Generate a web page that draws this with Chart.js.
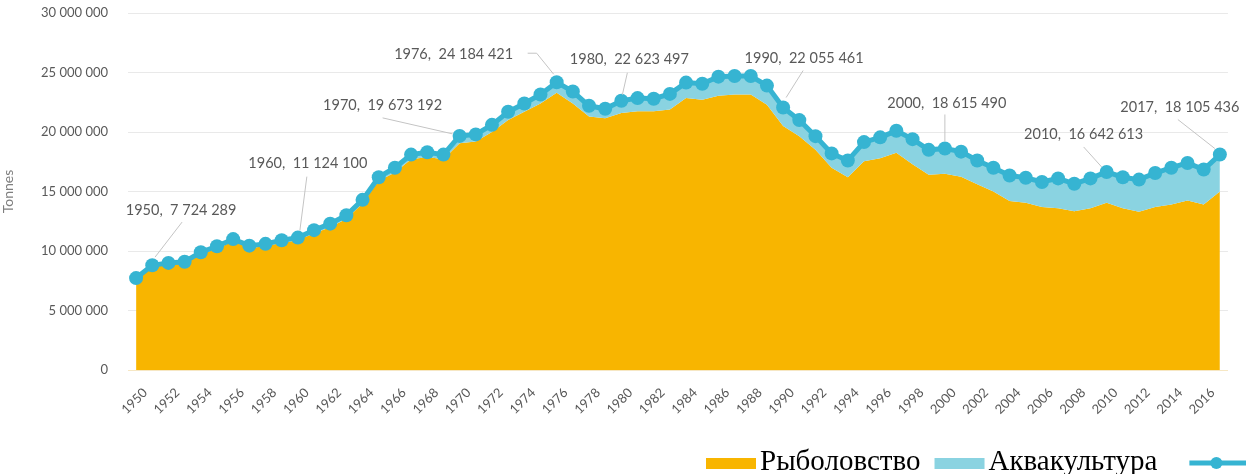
<!DOCTYPE html>
<html>
<head>
<meta charset="utf-8">
<script src="https://cdn.jsdelivr.net/npm/chart.js@4.4.1/dist/chart.umd.min.js"></script>
<style>
  html, body { margin: 0; padding: 0; background: #fff; }
  #wrap { width: 1246px; height: 474px; overflow: hidden; }
</style>
</head>
<body>
<div id="wrap"><canvas id="catchChart" width="1246" height="474"></canvas></div>
<script>
// годы 1950–2017
const years = [
  '1950','1951','1952','1953','1954','1955','1956','1957','1958','1959',
  '1960','1961','1962','1963','1964','1965','1966','1967','1968','1969',
  '1970','1971','1972','1973','1974','1975','1976','1977','1978','1979',
  '1980','1981','1982','1983','1984','1985','1986','1987','1988','1989',
  '1990','1991','1992','1993','1994','1995','1996','1997','1998','1999',
  '2000','2001','2002','2003','2004','2005','2006','2007','2008','2009',
  '2010','2011','2012','2013','2014','2015','2016','2017'
];

// общий улов (рыболовство + аквакультура), тонны
const total = [
  7724289, 8800000, 9000000, 9100000, 9900000, 10400000, 11000000, 10450000, 10600000, 10900000,
  11124100, 11750000, 12300000, 13000000, 14300000, 16200000, 17000000, 18100000, 18300000, 18100000,
  19673192, 19800000, 20600000, 21700000, 22400000, 23150000, 24184421, 23400000, 22200000, 21950000,
  22623497, 22850000, 22800000, 23200000, 24150000, 24050000, 24650000, 24700000, 24700000, 23900000,
  22055461, 21000000, 19650000, 18200000, 17600000, 19150000, 19550000, 20100000, 19400000, 18500000,
  18615490, 18350000, 17600000, 17000000, 16350000, 16150000, 15800000, 16100000, 15650000, 16100000,
  16642613, 16200000, 16000000, 16550000, 17000000, 17400000, 16850000, 18105436
];

// рыболовство, тонны
const fishing = [
  7550000, 8650000, 8850000, 8950000, 9700000, 10200000, 10800000, 10250000, 10400000, 10700000,
  10900000, 11500000, 12000000, 12700000, 14000000, 15900000, 16600000, 17700000, 17900000, 17700000,
  19050000, 19200000, 20000000, 21000000, 21700000, 22400000, 23300000, 22400000, 21300000, 21150000,
  21600000, 21750000, 21750000, 21900000, 22850000, 22700000, 23050000, 23150000, 23150000, 22300000,
  20500000, 19650000, 18500000, 17000000, 16200000, 17550000, 17800000, 18250000, 17300000, 16400000,
  16500000, 16250000, 15600000, 15000000, 14200000, 14050000, 13700000, 13600000, 13350000, 13600000,
  14050000, 13600000, 13300000, 13700000, 13900000, 14250000, 13900000, 15000000
];

const seriesNames = ['Рыболовство', 'Аквакультура'];
const annotatedYears = ['1950', '1960', '1970', '1976', '1980', '1990', '2000', '2010', '2017'];

// смещения подписей и выносок относительно точки (px)
const calloutLayout = {
  '1950': { label: [45, -68],   leader: [[46, -56], [19, -21]] },
  '1960': { label: [10, -74],   leader: [[9, -61], [2, -7]] },
  '1970': { label: [-77, -31],  leader: [[-77, -18], [-7, -2]] },
  '1976': { label: [-103, -28], leader: [[-29, -29], [-20, -29], [-3, -8]] },
  '1980': { label: [8, -41],    leader: [[6, -28], [1, -6]] },
  '1990': { label: [21, -49],   leader: [[20, -37], [3, -10]] },
  '2000': { label: [2, -45],    leader: [[0, -34], [0, -7]] },
  '2010': { label: [-23, -38],  leader: [[-23, -25], [-5, -5]] },
  '2017': { label: [-40, -47],  leader: [[-42, -35], [-5, -6]] }
};

const ORANGE = '#F8B500';
const LIGHT_BLUE = '#8AD3E1';
const LINE_BLUE = '#36B4D2';
const TEXT_GREY = '#595959';

function fmtNum(v) {
  return String(Math.round(v)).replace(/\B(?=(\d{3})+(?!\d))/g, ' ');
}

// подписи со значениями и выносками
const calloutPlugin = {
  id: 'callouts',
  afterDatasetsDraw(chart) {
    const ctx = chart.ctx;
    const meta = chart.getDatasetMeta(2);
    ctx.save();
    ctx.font = '14.5px Lato';
    ctx.fillStyle = TEXT_GREY;
    ctx.textAlign = 'center';
    ctx.textBaseline = 'middle';
    annotatedYears.forEach(y => {
      const i = years.indexOf(y);
      const pt = meta.data[i];
      const lay = calloutLayout[y];
      ctx.strokeStyle = '#c4c4c4';
      ctx.lineWidth = 1;
      ctx.beginPath();
      lay.leader.forEach((p, k) => {
        if (k === 0) ctx.moveTo(pt.x + p[0], pt.y + p[1]);
        else ctx.lineTo(pt.x + p[0], pt.y + p[1]);
      });
      ctx.stroke();
      ctx.fillText(y + ',  ' + fmtNum(total[i]), pt.x + lay.label[0], pt.y + lay.label[1]);
    });
    ctx.restore();
  }
};

// легенда снизу справа
const legendPlugin = {
  id: 'bottomLegend',
  afterDraw(chart) {
    const ctx = chart.ctx;
    ctx.save();
    ctx.font = '29px "Liberation Serif"';
    ctx.textBaseline = 'alphabetic';
    let x = 706;
    const colors = [ORANGE, LIGHT_BLUE];
    seriesNames.forEach((name, k) => {
      ctx.fillStyle = colors[k];
      ctx.fillRect(x, 458, 50, 11);
      x += 54;
      ctx.fillStyle = '#000';
      ctx.fillText(name, x, 470);
      x += ctx.measureText(name).width + 14;
    });
    x += 18;
    ctx.strokeStyle = LINE_BLUE;
    ctx.lineWidth = 5;
    ctx.beginPath();
    ctx.moveTo(x, 463);
    ctx.lineTo(x + 60, 463);
    ctx.stroke();
    ctx.fillStyle = LINE_BLUE;
    ctx.beginPath();
    ctx.arc(x + 27, 463, 6, 0, Math.PI * 2);
    ctx.fill();
    ctx.restore();
  }
};

const ctx = document.getElementById('catchChart').getContext('2d');
new Chart(ctx, {
  type: 'line',
  data: {
    labels: years,
    datasets: [
      {
        label: seriesNames[0],
        data: fishing,
        backgroundColor: ORANGE,
        borderWidth: 0,
        pointRadius: 0,
        fill: 'origin',
        order: 2
      },
      {
        label: seriesNames[1],
        data: total,
        backgroundColor: LIGHT_BLUE,
        borderWidth: 0,
        pointRadius: 0,
        fill: '-1',
        order: 1
      },
      {
        label: '',
        data: total,
        borderColor: LINE_BLUE,
        backgroundColor: LINE_BLUE,
        borderWidth: 5,
        pointRadius: 7,
        pointBorderWidth: 0,
        fill: false,
        order: 0
      }
    ]
  },
  options: {
    responsive: false,
    animation: false,
    layout: { padding: { top: 13, right: 14, left: 0, bottom: 0 } },
    plugins: {
      legend: { display: false },
      tooltip: { enabled: false }
    },
    scales: {
      x: {
        offset: true,
        grid: { display: false, drawTicks: false },
        border: { display: true, color: '#f6e7c4', width: 1 },
        ticks: {
          autoSkip: false,
          maxRotation: 45,
          minRotation: 45,
          padding: 15,
          labelOffset: 9,
          color: TEXT_GREY,
          font: { family: 'Lato', size: 13 },
          callback: (v, i) => (i % 2 === 0 ? years[i] : '')
        },
        afterFit: s => { s.height = 104; }
      },
      y: {
        min: 0,
        max: 30000000,
        grid: { color: '#e9e9e9', drawTicks: true, tickLength: 20, tickColor: 'rgba(0,0,0,0)' },
        border: { display: false },
        ticks: {
          stepSize: 5000000,
          padding: 0,
          color: TEXT_GREY,
          font: { family: 'Lato', size: 13 },
          callback: v => fmtNum(v)
        },
        title: {
          display: true,
          text: 'Tonnes',
          color: '#7f7f7f',
          font: { family: 'Lato', size: 14 },
          padding: 0
        },
        afterFit: s => { s.width = 128; }
      }
    }
  },
  plugins: [calloutPlugin, legendPlugin]
});
</script>
</body>
</html>
